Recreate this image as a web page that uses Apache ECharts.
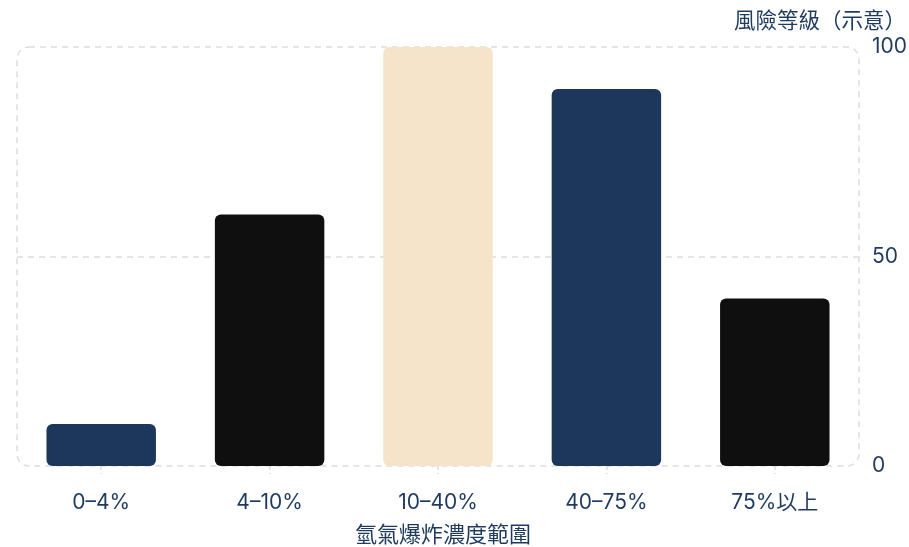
<!DOCTYPE html>
<html><head><meta charset="utf-8">
<script src="https://cdn.jsdelivr.net/npm/echarts@6/dist/echarts.min.js"></script>
<style>html,body{margin:0;padding:0;background:#fff}#c{width:909px;height:547px}</style>
</head><body><div id="c"></div>
<script>
const categories = ['0–4%', '4–10%', '10–40%', '40–75%', '75%以上'];
const riskValues = [10, 60, 100, 90, 40];
const barColors = ['#1c365c', '#0f0f0f', '#f5e4c9', '#1c365c', '#0f0f0f'];
const yTicks = [0, 50, 100];
const xName = '氫氣爆炸濃度範圍';
const yName = '風險等級（示意）';

const FONT = 'Inter, "Noto Sans CJK TC", sans-serif';
const TEXT = '#1f3a5f';
const G = {left: 17, right: 50, top: 47, bottom: 81};
const W = 909, H = 547;

const chart = echarts.init(document.getElementById('c'));
chart.setOption({
  animation: false,
  grid: {left: G.left, right: G.right, top: G.top, bottom: G.bottom, containLabel: false, outerBoundsMode: 'none'},
  graphic: [{
    type: 'rect', silent: true, z: 0,
    shape: {x: G.left, y: G.top, width: W - G.left - G.right, height: H - G.top - G.bottom, r: 12},
    style: {fill: 'none', stroke: '#dddddd', lineWidth: 1.5, lineDash: [6, 5]}
  }],
  xAxis: {
    type: 'category', data: categories,
    axisLine: {show: false},
    axisTick: {show: true, alignWithLabel: true, length: 8, lineStyle: {color: '#dddddd', width: 1.5, type: [4, 3]}},
    axisLabel: {color: TEXT, fontFamily: FONT, fontSize: 21, margin: 26},
    name: xName, nameLocation: 'middle', nameGap: 58,
    nameTextStyle: {color: TEXT, fontFamily: FONT, fontSize: 22, padding: [0, 0, 0, 10]}
  },
  yAxis: {
    type: 'value', position: 'right', min: yTicks[0], max: yTicks[yTicks.length - 1], interval: 50,
    axisLine: {show: false}, axisTick: {show: false},
    splitLine: {show: true, lineStyle: {color: ['rgba(0,0,0,0)', '#dddddd', 'rgba(0,0,0,0)'], width: 1.5, type: [6, 5]}},
    axisLabel: {color: TEXT, fontFamily: FONT, fontSize: 21, margin: 13},
    name: yName, nameLocation: 'end', nameGap: 15,
    nameTextStyle: {color: TEXT, fontFamily: FONT, fontSize: 21.5, align: 'right', padding: [0, -47, 0, 0]}
  },
  series: [{
    type: 'bar', barWidth: '65%',
    data: riskValues.map((v, i) => ({value: v, itemStyle: {color: barColors[i]}})),
    itemStyle: {borderRadius: 6}
  }]
});
</script></body></html>
